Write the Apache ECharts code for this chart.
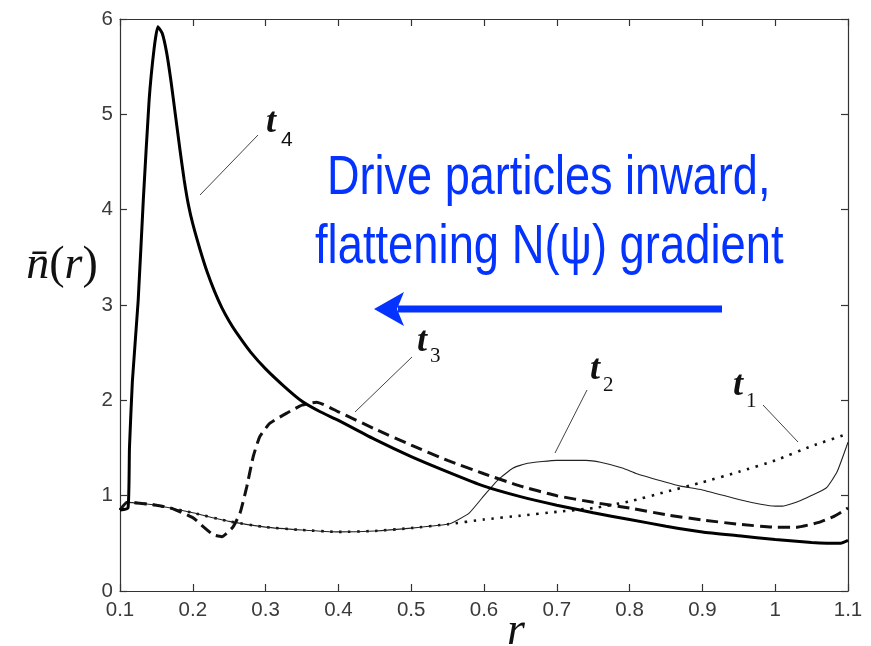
<!DOCTYPE html>
<html>
<head>
<meta charset="utf-8">
<script src="https://cdn.jsdelivr.net/npm/echarts@6/dist/echarts.min.js"></script>
<style>
html,body{margin:0;padding:0;background:#fff;}
#chart{width:871px;height:646px;}
</style>
</head>
<body>
<div id="chart"></div>
<script>
// ---- data ----
const xTicks = [0.1, 0.2, 0.3, 0.4, 0.5, 0.6, 0.7, 0.8, 0.9, 1, 1.1];
const yTicks = [0, 1, 2, 3, 4, 5, 6];

const t1 = [[0.1,0.85],[0.11,0.93],[0.15,0.9],[0.2,0.82],[0.25,0.73],[0.3,0.67],[0.35,0.64],[0.4,0.62],[0.45,0.63],[0.5,0.66],[0.55,0.7],
  [0.6,0.75],[0.65,0.79],[0.7,0.83],[0.75,0.87],[0.8,0.94],[0.85,1.04],[0.9,1.14],[0.95,1.25],[1.0,1.37],[1.05,1.52],[1.1,1.65]];

const t2 = [[0.1,0.85],[0.11,0.93],[0.15,0.9],[0.2,0.82],[0.25,0.73],[0.3,0.67],[0.35,0.64],[0.4,0.62],[0.45,0.63],[0.5,0.66],[0.55,0.7],
  [0.56,0.73],[0.58,0.82],[0.6,1.0],[0.62,1.17],[0.64,1.29],[0.66,1.34],[0.7,1.37],[0.74,1.37],[0.76,1.35],[0.79,1.29],[0.81,1.23],
  [0.85,1.14],[0.87,1.1],[0.9,1.06],[0.95,0.96],[0.98,0.91],[1.0,0.89],[1.01,0.89],[1.035,0.95],[1.07,1.08],[1.085,1.25],[1.1,1.56]];

const t3 = [[0.1,0.85],[0.11,0.93],[0.15,0.9],[0.17,0.87],[0.2,0.77],[0.215,0.67],[0.228,0.59],[0.24,0.57],[0.255,0.67],[0.265,0.82],
  [0.274,1.09],[0.283,1.41],[0.292,1.62],[0.306,1.76],[0.33,1.87],[0.35,1.95],[0.37,1.98],[0.4,1.88],[0.45,1.7],[0.5,1.53],[0.55,1.37],
  [0.6,1.23],[0.65,1.1],[0.7,1.0],[0.75,0.93],[0.8,0.87],[0.85,0.8],[0.9,0.745],[0.95,0.7],[1.0,0.67],[1.03,0.67],[1.06,0.72],[1.08,0.78],[1.1,0.87]];

const t4 = [[0.1,0.85],[0.111,0.87],[0.113,1.5],[0.117,2.2],[0.125,3.05],[0.132,4.1],[0.14,5.15],[0.147,5.7],[0.152,5.92],[0.158,5.85],
  [0.164,5.65],[0.17,5.35],[0.176,5.0],[0.182,4.65],[0.188,4.32],[0.194,4.05],[0.2,3.85],[0.21,3.58],[0.22,3.34],[0.23,3.14],[0.24,2.97],
  [0.25,2.83],[0.26,2.71],[0.28,2.5],[0.3,2.33],[0.325,2.15],[0.35,1.99],[0.375,1.88],[0.4,1.79],[0.45,1.59],[0.5,1.41],[0.55,1.25],
  [0.6,1.1],[0.65,0.99],[0.7,0.9],[0.75,0.82],[0.8,0.75],[0.85,0.68],[0.9,0.62],[0.95,0.58],[1.0,0.54],[1.05,0.51],[1.09,0.5],[1.1,0.53]];

const seriesNames = ['t1', 't2', 't3', 't4'];
const annotationLines = ['Drive particles inward,', 'flattening N(ψ) gradient'];

// ---- chart ----
const chart = echarts.init(document.getElementById('chart'), null, {renderer: 'canvas'});
const axisColor = '#333';
const labelFont = {fontFamily: 'Liberation Sans, Arial, sans-serif', fontSize: 20.5, color: '#3a3a3a'};
const fmt = v => String(+v.toFixed(1));

function xAx(pos, showLabel) {
  return {
    type: 'value', position: pos, min: xTicks[0], max: xTicks[xTicks.length - 1], interval: 0.1,
    axisLine: {show: true, onZero: false, lineStyle: {color: axisColor, width: 1.2}},
    axisTick: {show: true, inside: true, length: 7, lineStyle: {color: axisColor, width: 1.2}},
    axisLabel: Object.assign({show: showLabel, margin: 9, formatter: fmt}, labelFont),
    splitLine: {show: false}
  };
}
function yAx(pos, showLabel) {
  return {
    type: 'value', position: pos, min: yTicks[0], max: yTicks[yTicks.length - 1], interval: 1,
    axisLine: {show: true, onZero: false, lineStyle: {color: axisColor, width: 1.2}},
    axisTick: {show: true, inside: true, length: 7, lineStyle: {color: axisColor, width: 1.2}},
    axisLabel: Object.assign({show: showLabel, margin: 7, formatter: fmt}, labelFont),
    splitLine: {show: false}
  };
}

const blue = '#0433ff';
const serif = 'Liberation Serif, Times New Roman, serif';

function tLabel(x, y, sx, sy, sub, subFont) {
  return [
    {type: 'text', x: x, y: y, style: {text: 't', font: 'italic bold 36px ' + serif, fill: '#111', textAlign: 'left', textVerticalAlign: 'middle'}},
    {type: 'text', x: sx, y: sy, style: {text: sub, font: subFont, fill: '#111', textAlign: 'left', textVerticalAlign: 'middle'}}
  ];
}
function leader(x1, y1, x2, y2) {
  return {type: 'line', shape: {x1: x1, y1: y1, x2: x2, y2: y2}, style: {stroke: '#444', lineWidth: 1}};
}

const graphics = [].concat(
  tLabel(266, 123, 281, 140, '4', '21px Liberation Sans, Arial, sans-serif'),
  tLabel(417, 342, 430, 356, '3', '21px ' + serif),
  tLabel(590, 370, 603, 385, '2', '21px ' + serif),
  tLabel(733, 386, 746, 401, '1', '21px ' + serif),
  [
    leader(258, 135, 200, 195),
    leader(412, 357, 355, 412),
    leader(587, 390, 555, 453),
    leader(763, 405, 798, 442),
    {type: 'text', x: 327, y: 178.5, scaleX: 0.805, style: {text: annotationLines[0], font: '56px Liberation Sans, Arial, sans-serif', fill: blue, textAlign: 'left', textVerticalAlign: 'middle'}},
    {type: 'text', x: 315, y: 247.5, scaleX: 0.81, style: {text: annotationLines[1], font: '56px Liberation Sans, Arial, sans-serif', fill: blue, textAlign: 'left', textVerticalAlign: 'middle'}},
    {type: 'line', shape: {x1: 722, y1: 309, x2: 398, y2: 309}, style: {stroke: blue, lineWidth: 7}},
    {type: 'polygon', shape: {points: [[374, 309], [404, 292], [397, 309], [404, 326]]}, style: {fill: blue}},
    {type: 'text', x: 62, y: 266, style: {
      text: '{i|n\u0304}{u|(}{i|r}{u|)}', textAlign: 'center', textVerticalAlign: 'middle',
      rich: {i: {font: 'italic 46px ' + serif, fill: '#111'}, u: {font: '46px ' + serif, fill: '#111'}}
    }},
    {type: 'text', x: 516, y: 632, style: {text: 'r', font: 'italic 46px ' + serif, fill: '#111', textAlign: 'center', textVerticalAlign: 'middle'}}
  ]
);

chart.setOption({
  animation: false,
  backgroundColor: '#fff',
  grid: {left: 120, top: 19, right: 23, bottom: 55, containLabel: false},
  xAxis: [xAx('bottom', true), xAx('top', false)],
  yAxis: [yAx('left', true), yAx('right', false)],
  series: [
    {name: seriesNames[0], type: 'line', data: t1, symbol: 'none', smooth: 0.15,
     lineStyle: {color: '#111', width: 2.6, type: [2.5, 6.5]}},
    {name: seriesNames[1], type: 'line', data: t2, symbol: 'none', smooth: 0.15,
     lineStyle: {color: '#222', width: 1.1}},
    {name: seriesNames[2], type: 'line', data: t3, symbol: 'none', smooth: 0.15,
     lineStyle: {color: '#111', width: 3, type: [12, 6]}},
    {name: seriesNames[3], type: 'line', data: t4, symbol: 'none', smooth: 0.15,
     lineStyle: {color: '#000', width: 3}}
  ],
  graphic: graphics
});
</script>
</body>
</html>
